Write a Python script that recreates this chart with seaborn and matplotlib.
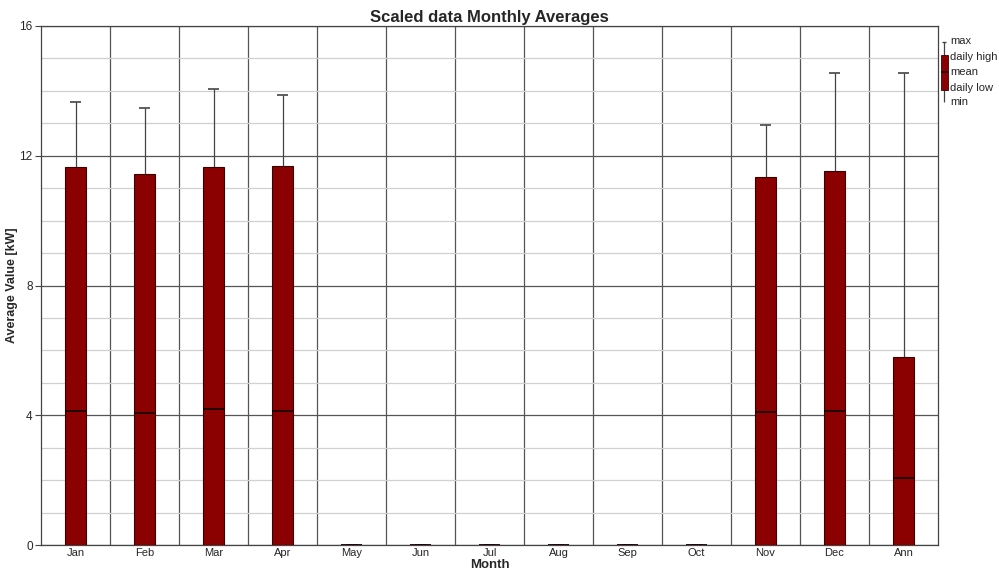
import numpy as np
import pandas as pd
import matplotlib
matplotlib.use("Agg")
import matplotlib.pyplot as plt
import seaborn as sns
from matplotlib.ticker import MultipleLocator

months = ["Jan", "Feb", "Mar", "Apr", "May", "Jun", "Jul", "Aug", "Sep", "Oct", "Nov", "Dec", "Ann"]
daily_high = [11.65, 11.44, 11.65, 11.68, 0, 0, 0, 0, 0, 0, 11.34, 11.53, 5.80]
mean_vals = [4.13, 4.07, 4.19, 4.13, 0, 0, 0, 0, 0, 0, 4.10, 4.13, 2.07]
max_vals = [13.66, 13.47, 14.06, 13.87, 0, 0, 0, 0, 0, 0, 12.95, 14.55, 14.55]
daily_low = [0] * 13
min_vals = [0] * 13

df = pd.DataFrame({"Month": months, "high": daily_high, "mean": mean_vals,
                   "max": max_vals, "low": daily_low, "min": min_vals})

sns.set_theme(style="white")
plt.rcParams["font.family"] = ["Liberation Sans", "DejaVu Sans"]

W, H = 999, 572
fig = plt.figure(figsize=(W / 100, H / 100), dpi=100)
ax = fig.add_axes([41 / W, 1 - 545 / H, (938 - 41) / W, (545 - 26) / H])

bar_color = "#8b0000"
x = np.arange(len(months))
bw = 0.3

# whiskers from daily high up to max
ax.vlines(x, df["high"], df["max"], color="#444444", lw=0.9, zorder=2)
ax.hlines(df["max"], x - 0.08, x + 0.08, color="#444444", lw=1.2, zorder=2)

sns.barplot(data=df, x="Month", y="high", color=bar_color, width=bw,
            edgecolor="#3a0000", linewidth=0.8, saturation=1, ax=ax, zorder=3)

# mean markers inside each bar, and flat marks for empty months
ax.hlines(df["mean"], x - bw / 2, x + bw / 2, color="#1a0000", lw=1.3, zorder=4)

ax.set_xlim(-0.5, len(months) - 0.5)
ax.set_ylim(0, 16)
ax.yaxis.set_major_locator(MultipleLocator(4))
ax.yaxis.set_minor_locator(MultipleLocator(1))
ax.grid(which="minor", axis="y", color="#d0d0d0", lw=0.9, zorder=0)
ax.grid(which="major", axis="y", color="#555555", lw=0.9, zorder=0)
for b in np.arange(0.5, len(months) - 1, 1):
    ax.axvline(b, color="#555555", lw=0.9, zorder=0)
ax.set_axisbelow(True)

ax.set_xticks(x)
ax.set_xticklabels(months, fontsize=8)
ax.tick_params(axis="x", length=0, pad=2)
ax.set_xticks(np.arange(-0.5, len(months), 1), minor=True)
ax.tick_params(axis="x", which="minor", length=4, width=0.8, color="#444444", direction="out")
ax.set_yticks([0, 4, 8, 12, 16])
ax.set_yticklabels(["0", "4", "8", "12", "16"], fontsize=8.5)
ax.tick_params(axis="y", which="major", length=4, width=0.8, color="#444444", direction="out", pad=2, left=True)
ax.tick_params(axis="y", which="minor", length=0)

for s in ax.spines.values():
    s.set_color("#444444")
    s.set_linewidth(0.9)

ax.set_xlabel("Month", fontsize=9.5, fontweight="bold")
ax.xaxis.set_label_coords(0.5, -0.0385)
ax.xaxis.label.set_va("center")
ax.set_ylabel("Average Value [kW]", fontsize=9, fontweight="bold")
ax.yaxis.set_label_coords(-0.026, 0.5)
ax.set_title("Scaled data Monthly Averages", fontsize=12, fontweight="bold", pad=3)

# key explaining the box elements
lg = fig.add_axes([0, 0, 1, 1], facecolor="none")
lg.set_xlim(0, W)
lg.set_ylim(H, 0)
lg.axis("off")
cx = 944
lg.vlines(cx, 42, 102, color="#444444", lw=0.9)
lg.hlines(42, cx - 2, cx + 2, color="#444444", lw=1)
lg.add_patch(plt.Rectangle((cx - 3.5, 55), 7, 35, facecolor=bar_color, edgecolor="#3a0000", lw=0.6, zorder=3))
lg.hlines(72, cx - 3.5, cx + 3.5, color="#1a0000", lw=1.2, zorder=4)
for label, yy in [("max", 41), ("daily high", 57), ("mean", 72), ("daily low", 88), ("min", 102)]:
    lg.text(950, yy, label, fontsize=8, va="center", ha="left")

fig.savefig("out.png", dpi=100)
